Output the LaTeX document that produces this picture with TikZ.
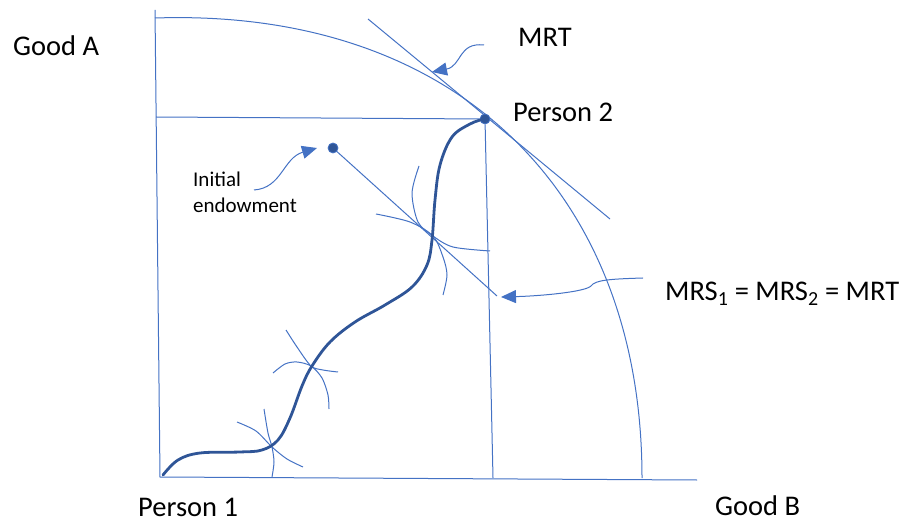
\documentclass[tikz,border=0pt]{standalone}
\usepackage{fontspec}
\setmainfont{Carlito}
\usetikzlibrary{arrows.meta}
\definecolor{lineblue}{HTML}{4472C4}
\definecolor{darkblue}{HTML}{2F5597}

\begin{document}
\begin{tikzpicture}
    [
        x=1bp, y=-1bp,
        guide/.style={draw=lineblue, line width=1bp},
        contract/.style={draw=darkblue, line width=2.8bp, line cap=round},
        dot/.style={circle, fill=darkblue, draw=lineblue, line width=0.8bp, minimum size=10bp, inner sep=0pt},
        txt/.style={inner sep=0pt, anchor=base west, font=\fontsize{28.5bp}{34bp}\selectfont},
        note/.style={inner sep=0pt, anchor=base west, align=left, font=\fontsize{21bp}{26bp}\selectfont},
        callout/.style={guide, -{Triangle[length=15bp,width=13bp]}},
    ]
    \useasboundingbox (0,0) rectangle (906,522);

    % axes
    \coordinate (O) at (160,477);
    \coordinate (ytop) at (155,10);
    \coordinate (xend) at (697,480);
    \draw[guide] (ytop) -- (O) -- (xend);

    % frontier, tangent, box
    \draw[guide] (155,18) .. controls (457,8) and (642,193) .. (642,478);
    \coordinate (t1) at (368,19);
    \coordinate (t2) at (610,219);
    \coordinate (hl) at (156,117);
    \coordinate (vb) at (493,478);
    \draw[guide] (t1) -- (t2);
    \node (p2) at (485,119) [dot] {};
    \draw[guide] (hl) -- (p2);
    \draw[guide] (p2) -- (vb);

    % endowment
    \node (e) at (333,148) [dot] {};
    \coordinate (b2) at (497,296);
    \draw[guide] (e) -- (b2);

    % indifference curves
    \draw[guide] plot[smooth] coordinates {(237,422) (256,431) (272,447) (287,459) (303,467)};
    \draw[guide] plot[smooth] coordinates {(264,409) (268,433) (272,447) (274,462) (272,477)};
    \draw[guide] plot[smooth] coordinates {(286,330) (297,347) (311,366) (323,370) (338,372)};
    \draw[guide] plot[smooth] coordinates {(273,373) (285,364) (297,362) (311,366) (322,378) (328,395) (329,409)};
    \draw[guide] plot[smooth] coordinates {(419,166) (412,193) (418,222) (433,236) (453,247) (490,251)};
    \draw[guide] plot[smooth] coordinates {(376,214) (410,222) (433,236) (443,257) (447,275) (443,295)};

    % contract curve
    \draw[contract] plot[smooth, tension=0.6] coordinates {(163,475) (178,460) (200,453) (240,452) (262,450)
        (278,440) (290,418) (302,386) (312,366) (330,342) (355,322) (385,305) (412,287) (427,265)
        (432,240) (435,200) (440,165) (452,137) (470,124) (484,119)};

    % labels
    \node (goodA) at (13,56)   [txt] {Good A};
    \node (goodB) at (715,515) [txt] {Good B};
    \node (per1)  at (138,516) [txt] {Person 1};
    \node (per2)  at (513,122) [txt] {Person 2};
    \node (mrt)   at (518,47)  [txt] {MRT};
    \node (mrs)   at (665,301) [txt] {MRS\textsubscript{1} = MRS\textsubscript{2} = MRT};
    \node (init)  at (193,213) [note] {Initial\\endowment};

    % callouts
    \coordinate (c1) at (484,45);
    \coordinate (c1tip) at (432,72);
    \draw[callout] (c1) .. controls (458,42) and (462,66) .. (c1tip);
    \coordinate (c2) at (254,190);
    \coordinate (c2tip) at (317,148);
    \draw[callout] (c2) .. controls (282,188) and (283,158) .. (c2tip);
    \coordinate (c3) at (643,278);
    \coordinate (c3tip) at (501,297);
    \draw[callout] (c3) .. controls (610,279) and (595,280) .. (591,286)
        .. controls (585,292) and (540,296) .. (c3tip);

\end{tikzpicture}
\end{document}
